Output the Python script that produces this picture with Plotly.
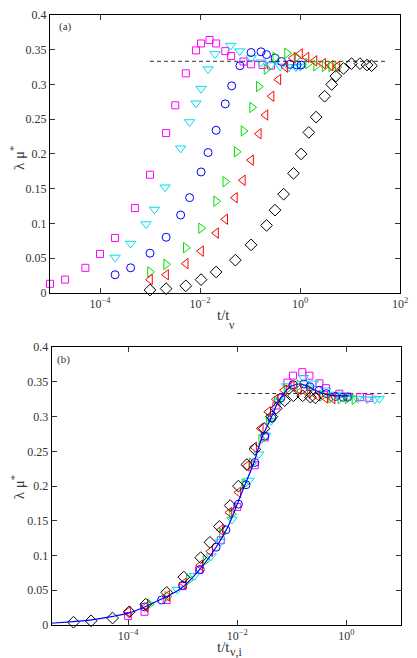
import plotly.graph_objects as go

# ---------------- data ----------------
# panel (a): x = t / t_nu
mag_t = [1e-5, 2e-5, 5.1e-5, 1e-4, 2e-4, 5e-4, 1e-3, 2.1e-3, 3.2e-3, 5.2e-3, 8.3e-3, 1.05e-2,
         1.55e-2, 2.1e-2, 3.2e-2, 4.2e-2, 7.4e-2, 0.105, 0.178, 0.263]
mag_y = [0.013, 0.019, 0.036, 0.056, 0.079, 0.122, 0.170, 0.230, 0.270, 0.316, 0.349, 0.359,
         0.364, 0.359, 0.348, 0.341, 0.333, 0.329, 0.328, 0.327]

cyn_t = [2e-4, 4.1e-4, 8.3e-4, 1.23e-3, 2.0e-3, 4.1e-3, 6.2e-3, 8.3e-3, 1.05e-2, 1.45e-2, 2.0e-2,
         4.1e-2, 6.2e-2, 0.105, 0.166, 0.263, 0.40, 0.60, 0.83, 1.0]
cyn_y = [0.051, 0.071, 0.099, 0.120, 0.152, 0.208, 0.246, 0.273, 0.294, 0.322, 0.344,
         0.356, 0.348, 0.338, 0.332, 0.328, 0.326, 0.325, 0.325, 0.326]

blu_t = [2e-4, 4.1e-4, 1e-3, 2.1e-3, 4.1e-3, 6.2e-3, 1.05e-2, 1.45e-2, 2.1e-2, 3.2e-2, 4.3e-2,
         6.3e-2, 0.105, 0.166, 0.214, 0.316, 0.427, 0.63, 0.87, 1.05]
blu_y = [0.026, 0.036, 0.057, 0.080, 0.112, 0.137, 0.174, 0.202, 0.234, 0.272, 0.298,
         0.327, 0.346, 0.347, 0.343, 0.338, 0.333, 0.329, 0.328, 0.328]

grn_t = [1e-3, 2.1e-3, 5.2e-3, 1.05e-2, 2.1e-2, 3.2e-2, 5.4e-2, 7.4e-2, 0.11, 0.15, 0.214,
         0.32, 0.55, 0.85, 1.45, 2.1, 3.1, 4.2, 5.6]
grn_y = [0.030, 0.041, 0.065, 0.093, 0.132, 0.160, 0.203, 0.233, 0.267, 0.297, 0.322,
         0.339, 0.345, 0.339, 0.330, 0.327, 0.326, 0.326, 0.325]

red_t = [1e-3, 2.1e-3, 5.2e-3, 1.05e-2, 2.1e-2, 3.2e-2, 5e-2, 7.2e-2, 0.105, 0.15, 0.204,
         0.27, 0.37, 0.51, 0.72, 1.0, 1.35, 1.95, 2.9, 4.1, 5.6]
red_y = [0.019, 0.026, 0.042, 0.060, 0.086, 0.106, 0.137, 0.162, 0.191, 0.229, 0.256,
         0.283, 0.307, 0.325, 0.338, 0.344, 0.339, 0.334, 0.330, 0.327, 0.326]

blk_t = [1e-3, 2.1e-3, 5.2e-3, 1.05e-2, 2.1e-2, 5.1e-2, 0.105, 0.214, 0.316, 0.47, 0.74, 1.05,
         1.5, 2.1, 3.1, 4.3, 5.2, 7.4, 10.7, 15.8, 21.9, 26.9]
blk_y = [0.004, 0.006, 0.010, 0.019, 0.030, 0.047, 0.069, 0.097, 0.119, 0.142, 0.172, 0.200,
         0.231, 0.253, 0.283, 0.300, 0.312, 0.323, 0.330, 0.330, 0.328, 0.327]

# factor t_nu / t_nu,i used for panel (b) (x = t / t_nu,i)
scale = {"mag": 10.0, "cyn": 4.0, "blu": 1.0, "grn": 0.25, "red": 0.1, "blk": 0.01}

# fitted curve in panel (b)
fit_t = [3.7e-6, 1e-5, 2e-5, 5e-5, 1e-4, 2e-4, 4e-4, 9.1e-4, 2.0e-3, 4.1e-3, 6.6e-3, 1e-2,
         1.32e-2, 2e-2, 2.8e-2, 4e-2, 5.6e-2, 7.4e-2, 0.1, 0.132, 0.178, 0.25, 0.355, 0.5, 0.79, 1.12]
fit_y = [0.0024, 0.005, 0.007, 0.012, 0.017, 0.026, 0.037, 0.052, 0.079, 0.112, 0.140, 0.174,
         0.198, 0.233, 0.269, 0.295, 0.321, 0.335, 0.344, 0.347, 0.345, 0.339, 0.334, 0.331, 0.330, 0.330]

plateau = 1.0 / 3.0
dash_a_t = [1e-3, 52]
dash_b_t = [1e-2, 7.8]

y_ticks = [0, 0.05, 0.1, 0.15, 0.2, 0.25, 0.3, 0.35, 0.4]
y_ticktext = ["0", "0.05", "0.1", "0.15", "0.2", "0.25", "0.3", "0.35", "0.4"]
xa_ticks = [1e-4, 1e-2, 1, 100]
xa_ticktext = ["10<sup>−4</sup>", "10<sup>−2</sup>", "10<sup>0</sup>", "10<sup>2</sup>"]
xb_ticks = [1e-4, 1e-2, 1]
xb_ticktext = ["10<sup>−4</sup>", "10<sup>−2</sup>", "10<sup>0</sup>"]

# ---------------- styles ----------------
series = [
    ("mag", mag_t, mag_y, "square-open", 7, "#ff00ff"),
    ("cyn", cyn_t, cyn_y, "triangle-down-open", 9, "#00ddee"),
    ("blu", blu_t, blu_y, "circle-open", 8, "#0000ff"),
    ("grn", grn_t, grn_y, "triangle-right-open", 9, "#00dd00"),
    ("red", red_t, red_y, "triangle-left-open", 9, "#ff0000"),
    ("blk", blk_t, blk_y, "diamond-open", 9, "#000000"),
]

fig = go.Figure()

# dashed plateau lines
fig.add_trace(go.Scatter(x=dash_a_t, y=[plateau, plateau], mode="lines",
                         line=dict(color="#333333", width=1, dash="4px,3px"),
                         xaxis="x", yaxis="y", showlegend=False))
fig.add_trace(go.Scatter(x=dash_b_t, y=[plateau, plateau], mode="lines",
                         line=dict(color="#333333", width=1, dash="4px,3px"),
                         xaxis="x2", yaxis="y2", showlegend=False))

for key, t, y, sym, sz, col in series:
    fig.add_trace(go.Scatter(x=t, y=y, mode="markers", xaxis="x", yaxis="y",
                             marker=dict(symbol=sym, size=sz, color=col, line=dict(width=1, color=col)),
                             cliponaxis=False, showlegend=False))
for key, t, y, sym, sz, col in series:
    tb = [v * scale[key] for v in t]
    fig.add_trace(go.Scatter(x=tb, y=y, mode="markers", xaxis="x2", yaxis="y2",
                             marker=dict(symbol=sym, size=sz, color=col, line=dict(width=1, color=col)),
                             cliponaxis=False, showlegend=False))

fig.add_trace(go.Scatter(x=fit_t, y=fit_y, mode="lines", xaxis="x2", yaxis="y2",
                         line=dict(color="#0000ff", width=1.2, shape="spline", smoothing=0.8),
                         showlegend=False))

# ---------------- layout ----------------
W, H = 417, 658
ML, MR, MT, MB = 50, 8, 8, 33
PW, PH = W - ML - MR, H - MT - MB


def px(p):
    return (p - ML) / PW


def py(p):
    return (H - MB - p) / PH


tickfont = dict(family="Liberation Serif", size=12, color="#333333")
axcommon = dict(showline=True, linecolor="black", linewidth=1, mirror="ticks",
                ticks="inside", ticklen=5, tickcolor="#333333", showgrid=False,
                zeroline=False, tickfont=tickfont)

fig.update_layout(
    width=W, height=H,
    margin=dict(l=ML, r=MR, t=MT, b=MB),
    paper_bgcolor="white", plot_bgcolor="white",
    xaxis=dict(type="log", range=[-5, 2], domain=[0, 358 / PW], anchor="y",
               tickvals=xa_ticks, ticktext=xa_ticktext, **axcommon),
    yaxis=dict(range=[0, 0.4], domain=[py(289), 1], anchor="x",
               tickvals=y_ticks, ticktext=y_ticktext, **axcommon),
    xaxis2=dict(type="log", range=[-5.4, 1.0], domain=[px(51.7), 1], anchor="y2",
                tickvals=xb_ticks, ticktext=xb_ticktext, **axcommon),
    yaxis2=dict(range=[0, 0.4], domain=[0, py(344)], anchor="x2",
                tickvals=y_ticks, ticktext=y_ticktext, **axcommon),
)

lab = dict(family="Liberation Serif", size=15, color="#333333")
small = dict(family="Liberation Serif", size=11, color="#333333")
subf = dict(family="Liberation Serif", size=12, color="#333333")
ann = [
    dict(text="(a)", x=px(66), y=py(20), font=small),
    dict(text="(b)", x=px(64), y=py(356), font=small),
    dict(text="t/t", x=px(227), y=py(311), font=lab),
    dict(text="ν", x=px(236), y=py(322), font=subf),
    dict(text="t/t", x=px(227), y=py(647), font=lab),
    dict(text="ν,i", x=px(240), y=py(652), font=subf),
    dict(text="λ μ<sup>*</sup>", x=px(17), y=py(153), textangle=-90, font=lab),
    dict(text="λ μ<sup>*</sup>", x=px(17), y=py(486), textangle=-90, font=lab),
]
for a in ann:
    a.update(xref="paper", yref="paper", showarrow=False, xanchor="center", yanchor="middle")
fig.update_layout(annotations=ann)

fig.write_html("out.html")
